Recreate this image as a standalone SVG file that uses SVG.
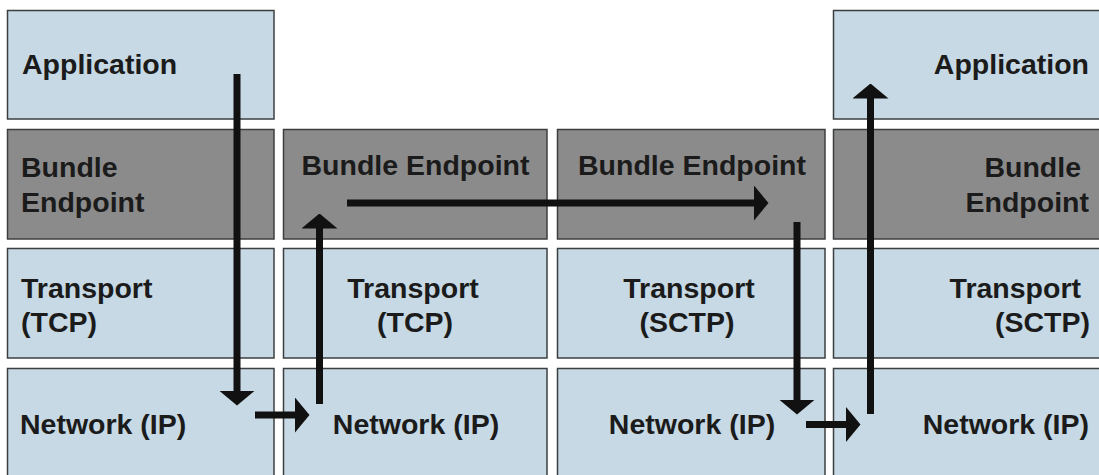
<svg xmlns="http://www.w3.org/2000/svg" width="1099" height="475" viewBox="0 0 1099 475">
  <style>
    .layer { stroke: #3c3f42; stroke-width: 1.5; }
    .light { fill: #c6d9e4; }
    .dark { fill: #8b8b8b; }
    text { font-family: "Liberation Sans", Arial, sans-serif; font-weight: bold; font-size: 28.5px; fill: #1b1b1b; }
    .mid { text-anchor: middle; }
    .end { text-anchor: end; }
    .flow { stroke: #111111; stroke-width: 7; fill: none; marker-end: url(#head); }
  </style>
  <defs>
    <marker id="head" markerUnits="userSpaceOnUse" viewBox="0 0 15 36" markerWidth="15" markerHeight="36" refX="0.5" refY="18" orient="auto">
      <path d="M0,0 L15,18 L0,36 Z" fill="#111111"/>
    </marker>
  </defs>
  <rect width="1099" height="475" fill="#ffffff"/>

  <!-- Host A stack -->
  <g id="hostA-application">
    <rect class="layer light" x="7.5" y="10.5" width="266.5" height="108.5"/>
    <text x="22" y="74">Application</text>
  </g>
  <g id="hostA-bundle">
    <rect class="layer dark" x="7.5" y="129.5" width="266.5" height="109.5"/>
    <text x="21" y="177">Bundle</text>
    <text x="21" y="212">Endpoint</text>
  </g>
  <g id="hostA-transport">
    <rect class="layer light" x="7.5" y="248.5" width="266.5" height="109.5"/>
    <text x="21" y="298">Transport</text>
    <text x="21" y="332">(TCP)</text>
  </g>
  <g id="hostA-network">
    <rect class="layer light" x="7.5" y="368.5" width="266.5" height="115"/>
    <text x="20" y="434">Network (IP)</text>
  </g>

  <!-- Router 1 (TCP side) -->
  <g id="r1-bundle">
    <rect class="layer dark" x="283.5" y="129.5" width="263.5" height="109.5"/>
    <text class="mid" x="415.5" y="175">Bundle Endpoint</text>
  </g>
  <g id="r1-transport">
    <rect class="layer light" x="283.5" y="248.5" width="263.5" height="109.5"/>
    <text class="mid" x="413" y="298">Transport</text>
    <text class="mid" x="415" y="332">(TCP)</text>
  </g>
  <g id="r1-network">
    <rect class="layer light" x="283.5" y="368.5" width="263.5" height="115"/>
    <text class="mid" x="416" y="434">Network (IP)</text>
  </g>

  <!-- Router 2 (SCTP side) -->
  <g id="r2-bundle">
    <rect class="layer dark" x="557.5" y="129.5" width="267.5" height="109.5"/>
    <text class="mid" x="692" y="175">Bundle Endpoint</text>
  </g>
  <g id="r2-transport">
    <rect class="layer light" x="557.5" y="248.5" width="267.5" height="109.5"/>
    <text class="mid" x="689" y="298">Transport</text>
    <text class="mid" x="687" y="332">(SCTP)</text>
  </g>
  <g id="r2-network">
    <rect class="layer light" x="557.5" y="368.5" width="267.5" height="115"/>
    <text class="mid" x="692" y="434">Network (IP)</text>
  </g>

  <!-- Host B stack -->
  <g id="hostB-application">
    <rect class="layer light" x="833.5" y="10.5" width="280" height="108.5"/>
    <text class="end" x="1089" y="74">Application</text>
  </g>
  <g id="hostB-bundle">
    <rect class="layer dark" x="833.5" y="129.5" width="280" height="109.5"/>
    <text class="end" x="1081" y="177">Bundle</text>
    <text class="end" x="1089" y="212">Endpoint</text>
  </g>
  <g id="hostB-transport">
    <rect class="layer light" x="833.5" y="248.5" width="280" height="109.5"/>
    <text class="end" x="1081" y="298">Transport</text>
    <text class="end" x="1090" y="332">(SCTP)</text>
  </g>
  <g id="hostB-network">
    <rect class="layer light" x="833.5" y="368.5" width="280" height="115"/>
    <text class="end" x="1089" y="434">Network (IP)</text>
  </g>

  <!-- Bundle path through the stacks -->
  <g id="connectors">
    <line class="flow" x1="237" y1="74" x2="237" y2="391"/>
    <line class="flow" x1="255" y1="415" x2="295" y2="415"/>
    <line class="flow" x1="319.5" y1="404" x2="319.5" y2="228"/>
    <line class="flow" x1="347" y1="203" x2="754" y2="203"/>
    <line class="flow" x1="797" y1="222" x2="797" y2="400"/>
    <line class="flow" x1="806" y1="424.5" x2="846" y2="424.5"/>
    <line class="flow" x1="870.5" y1="414" x2="870.5" y2="98"/>
  </g>
</svg>
